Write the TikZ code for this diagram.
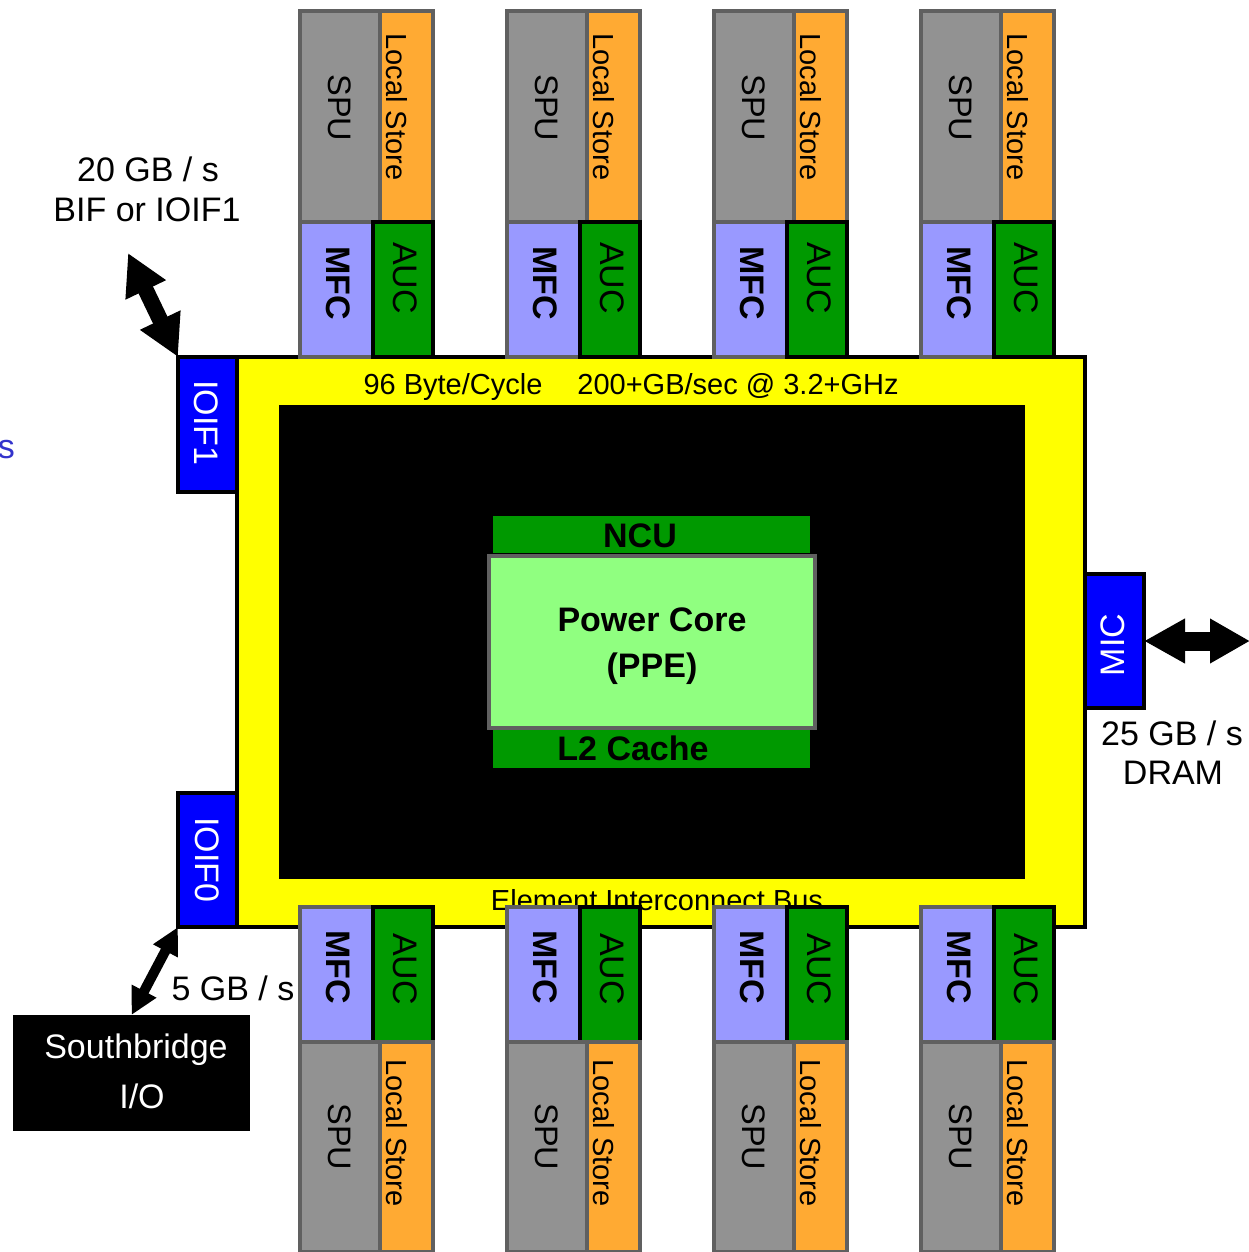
\documentclass[tikz,border=0pt]{standalone}
\usepackage{fontspec}
\setmainfont{Liberation Sans}
\usetikzlibrary{arrows.meta}
\definecolor{spugray}{RGB}{146,146,146}
\definecolor{bordergray}{RGB}{96,96,96}
\definecolor{lsorange}{RGB}{255,170,51}
\definecolor{mfcblue}{RGB}{153,153,255}
\definecolor{aucgreen}{RGB}{0,153,0}
\definecolor{ppegreen}{RGB}{144,255,128}
\definecolor{ioblue}{RGB}{0,0,255}
\definecolor{sblue}{RGB}{51,51,204}
\definecolor{eibyellow}{RGB}{255,255,0}
\newcommand\myfbig{\fontsize{34}{41}\selectfont}
\newcommand\myfmid{\fontsize{29}{35}\selectfont}
\newcommand\myfspu{\fontsize{32.5}{38}\selectfont}
\begin{document}
\begin{tikzpicture}[x=1pt,y=-1pt,
  blk/.style={inner sep=0pt, outer sep=0pt, anchor=north west},
  spubox/.style={blk, fill=spugray, draw=bordergray, line width=4pt},
  lsbox/.style={blk, fill=lsorange, draw=bordergray, line width=4pt},
  mfcbox/.style={blk, fill=mfcblue, draw=bordergray, line width=4pt},
  aucbox/.style={blk, fill=aucgreen, draw=black, line width=4pt},
  iobox/.style={blk, fill=ioblue, draw=black, line width=4pt},
  lbl/.style={inner sep=0pt, outer sep=0pt},
  fat/.style={draw=black},
]
\useasboundingbox (0,0) rectangle (1249,1252);

% main EIB box
\node[blk, fill=eibyellow, draw=black, line width=4pt, minimum width=848pt, minimum height=570pt] (eib) at (237,357) {};
\node[blk, fill=black, minimum width=746pt, minimum height=474pt] (core) at (279,405) {};

% PPE
\node[blk, fill=aucgreen, minimum width=317pt, minimum height=37pt] (ncu) at (493,516) {};
\node[blk, fill=ppegreen, draw=bordergray, line width=4pt, minimum width=326pt, minimum height=172pt] (ppe) at (489,556) {};
\node[blk, fill=aucgreen, minimum width=317pt, minimum height=38pt] (l2) at (493,730) {};
\node[lbl, anchor=base, font=\myfbig\bfseries] (ncut) at (640,547) {NCU};
\node[lbl, anchor=base, font=\myfbig\bfseries] (ppet1) at (652,631) {Power Core};
\node[lbl, anchor=base, font=\myfbig\bfseries] (ppet2) at (652,677) {(PPE)};
\node[lbl, anchor=base, font=\myfbig\bfseries] (l2t) at (633,760) {L2 Cache};

% bus texts
\node[lbl, anchor=base, font=\myfmid] (bw1) at (453,394) {96 Byte/Cycle};
\node[lbl, anchor=base, font=\myfmid] (bw2) at (738,394) {200+GB/sec @ 3.2+GHz};
\node[lbl, anchor=base, font=\myfmid] (bus) at (657,910) {Element Interconnect Bus};

% SPE blocks
\foreach \x/\i in {300/1,507/2,714/3,921/4}{
  % top
  \node[spubox, minimum width=80pt, minimum height=212pt] (spuT\i) at (\x,11) {};
  \node[lsbox, minimum width=53pt, minimum height=212pt] (lsT\i) at (\x+80,11) {};
  \node[mfcbox, minimum width=73pt, minimum height=135pt] (mfcT\i) at (\x,222) {};
  \node[aucbox, minimum width=60pt, minimum height=135pt] (aucT\i) at (\x+73,222) {};
  \node[lbl, rotate=-90, font=\myfspu] (spuTt\i) at (\x+40,108) {SPU};
  \node[lbl, rotate=-90, font=\myfmid] (lsTt\i) at (\x+97,107) {Local Store};
  \node[lbl, rotate=-90, font=\myfbig\bfseries] (mfcTt\i) at (\x+38,283) {MFC};
  \node[lbl, rotate=-90, font=\myfbig] (aucTt\i) at (\x+105,278) {AUC};
  % bottom
  \node[mfcbox, minimum width=73pt, minimum height=135pt] (mfcB\i) at (\x,907) {};
  \node[aucbox, minimum width=60pt, minimum height=135pt] (aucB\i) at (\x+73,907) {};
  \node[spubox, minimum width=80pt, minimum height=210pt] (spuB\i) at (\x,1042) {};
  \node[lsbox, minimum width=53pt, minimum height=210pt] (lsB\i) at (\x+80,1042) {};
  \node[lbl, rotate=-90, font=\myfbig\bfseries] (mfcBt\i) at (\x+38,967) {MFC};
  \node[lbl, rotate=-90, font=\myfbig] (aucBt\i) at (\x+105,969) {AUC};
  \node[lbl, rotate=-90, font=\myfspu] (spuBt\i) at (\x+40,1137) {SPU};
  \node[lbl, rotate=-90, font=\myfmid] (lsBt\i) at (\x+97,1133) {Local Store};
}

% IO interfaces
\node[iobox, minimum width=59pt, minimum height=135pt] (ioif1) at (178,357) {};
\node[iobox, minimum width=59pt, minimum height=134pt] (ioif0) at (178,793) {};
\node[iobox, minimum width=59pt, minimum height=134pt] (mic) at (1085,574) {};
\node[lbl, rotate=-90, font=\myfbig, text=white] (ioif1t) at (206,423) {IOIF1};
\node[lbl, rotate=-90, font=\myfbig, text=white] (ioif0t) at (207,860) {IOIF0};
\node[lbl, rotate=90, font=\myfbig, text=white] (mict) at (1113,645) {MIC};

% Southbridge
\node[blk, fill=black, minimum width=237pt, minimum height=116pt] (sb) at (13,1015) {};
\node[lbl, anchor=base, font=\myfbig, text=white] (sbt1) at (136,1058) {Southbridge};
\node[lbl, anchor=base, font=\myfbig, text=white] (sbt2) at (142,1108) {I/O};

% arrows
\coordinate (bifend) at (128,253);
\coordinate (dramend) at (1250,641);
\draw[fat, line width=16pt, {Triangle[length=41pt,width=42pt]}-{Triangle[length=41pt,width=42pt]}] (ioif1.north west) -- (bifend);
\draw[fat, line width=19pt, {Triangle[length=41pt,width=42pt]}-{Triangle[length=40pt,width=42pt]}] (mic.east) -- (dramend);
\draw[fat, line width=10pt, {Triangle[length=27pt,width=26pt]}-{Triangle[length=27pt,width=26pt]}] (ioif0.south west) -- (sb.north);

% labels
\node[lbl, anchor=base, font=\myfbig] (bift1) at (148,182) {20 GB / s};
\node[lbl, anchor=base, font=\myfbig] (bift2) at (147,222) {BIF or IOIF1};
\node[lbl, anchor=base, font=\myfbig] (dramt1) at (1172,745) {25 GB / s};
\node[lbl, anchor=base, font=\myfbig] (dramt2) at (1173,784) {DRAM};
\node[lbl, anchor=base, font=\myfbig] (sbbw) at (233,1000) {5 GB / s};
\node[lbl, anchor=base west, font=\myfbig, text=sblue] (stray) at (-2,458) {s};
\end{tikzpicture}
\end{document}
